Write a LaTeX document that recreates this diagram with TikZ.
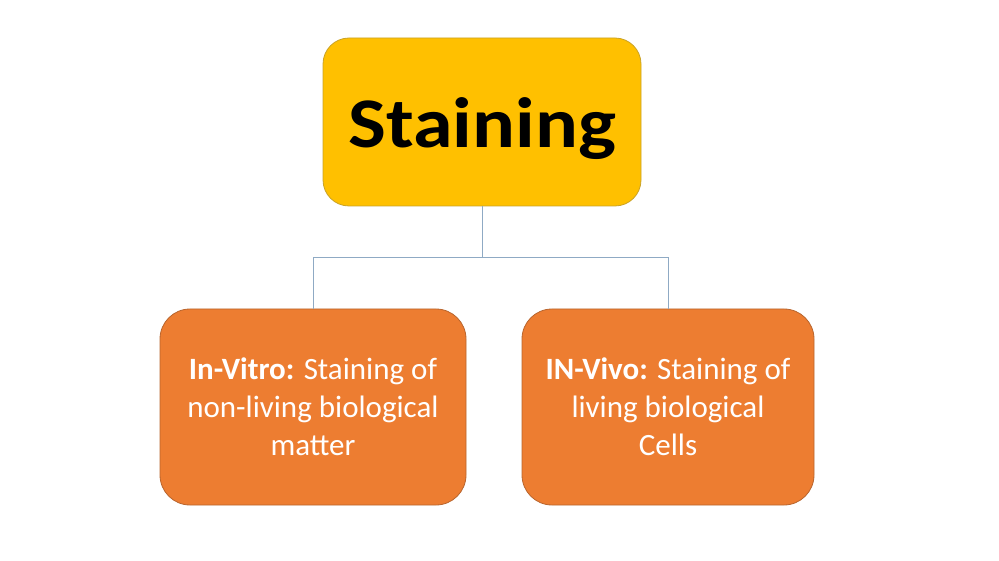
\documentclass[tikz,border=0pt]{standalone}
\usepackage{fontspec}
\setmainfont{Carlito}
\definecolor{topfill}{HTML}{FFC000}
\definecolor{topdraw}{HTML}{C9A227}
\definecolor{kidfill}{HTML}{ED7D31}
\definecolor{kiddraw}{HTML}{B8652E}
\definecolor{linkcol}{HTML}{8FAAC4}
\begin{document}
\begin{tikzpicture}[x=1pt,y=-1pt,
  topbox/.style={draw=topdraw,line width=0.8pt,fill=topfill,rounded corners=26pt,
    minimum width=318pt,minimum height=168pt,inner sep=0pt,
    text height=52pt,text depth=0pt,
    font=\fontsize{80}{90}\selectfont\bfseries,text=black},
  kidbox/.style={draw=kiddraw,line width=0.8pt,fill=kidfill,rounded corners=30pt,
    minimum height=196pt,inner sep=0pt,align=center,
    font=\fontsize{31}{38}\selectfont,text=white},
  link/.style={draw=linkcol,line width=1pt}]
\useasboundingbox (0,0) rectangle (999,561);
\node[topbox] (top) at (482,122) {\scalebox{1}[0.89]{Staining}};
\node[kidbox,minimum width=306pt] (left) at (313,407)
  {\textbf{In-Vitro:} Staining of\\non-living biological\\matter};
\node[kidbox,minimum width=292pt] (right) at (668,407)
  {\textbf{IN-Vivo:} Staining of\\living biological\\Cells};
\coordinate (mid) at (482,258);
\draw[link] (top.south) -- (mid) -| (left.north);
\draw[link] (mid) -| (right.north);
\end{tikzpicture}
\end{document}
